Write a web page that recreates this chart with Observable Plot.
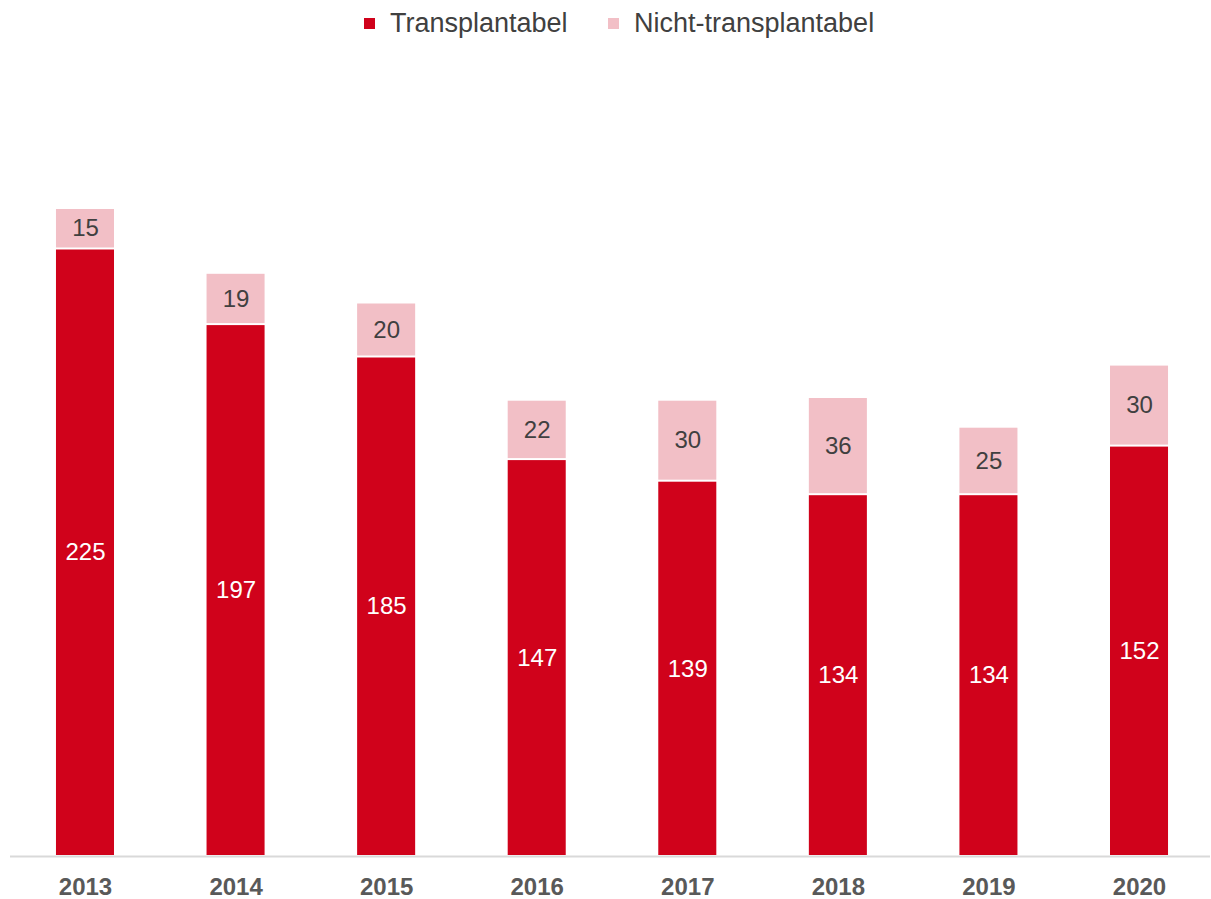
<!DOCTYPE html>
<html>
<head>
<meta charset="utf-8">
<script src="https://cdn.jsdelivr.net/npm/d3@7"></script>
<script src="https://cdn.jsdelivr.net/npm/@observablehq/plot@0.6"></script>
<style>
  html, body { margin: 0; padding: 0; background: #fff; }
  body { width: 1211px; height: 899px; overflow: hidden; font-family: "Liberation Sans", Arial, sans-serif; }
  #legend { position: relative; height: 46px; width: 1211px; }
  .item { position: absolute; top: 0; height: 46px; display: flex; align-items: center; font-size: 27px; color: #404040; }
  .sw { width: 11px; height: 11px; margin-right: 15px; margin-top: 0px; }
  svg { display: block; }
</style>
</head>
<body>
<div id="legend"></div>
<div id="chart"></div>
<script>
const years = ["2013", "2014", "2015", "2016", "2017", "2018", "2019", "2020"];
const transplantabel = [225, 197, 185, 147, 139, 134, 134, 152];
const nichtTransplantabel = [15, 19, 20, 22, 30, 36, 25, 30];
const seriesNames = ["Transplantabel", "Nicht-transplantabel"];
const seriesColors = ["#D0021B", "#F2BFC6"];
const labelColors = ["#ffffff", "#404040"];

const rows = [];
years.forEach((y, i) => rows.push({year: y, series: seriesNames[0], value: transplantabel[i]}));
years.forEach((y, i) => rows.push({year: y, series: seriesNames[1], value: nichtTransplantabel[i]}));

// Legend
const legend = document.getElementById("legend");
const legendLeft = [364, 608];
seriesNames.forEach((name, i) => {
  const it = document.createElement("div");
  it.className = "item";
  it.style.left = legendLeft[i] + "px";
  const sw = document.createElement("span");
  sw.className = "sw";
  sw.style.background = seriesColors[i];
  const t = document.createElement("span");
  t.textContent = name;
  it.appendChild(sw);
  it.appendChild(t);
  legend.appendChild(it);
});

const chart = Plot.plot({
  width: 1211,
  height: 853,
  marginLeft: 10,
  marginRight: 1,
  marginTop: 0,
  marginBottom: 43,
  style: {fontFamily: "'Liberation Sans', Arial, sans-serif", background: "white", overflow: "visible"},
  x: {domain: years, range: [9.7, 1214.3], round: false, paddingInner: 0.6146, paddingOuter: 0.3073, label: null},
  y: {domain: [0, 300], axis: null},
  color: {domain: seriesNames, range: seriesColors},
  marks: [
    Plot.barY(rows, Plot.stackY({x: "year", y: "value", z: "series", fill: "series", insetTop: 1, insetBottom: 1})),
    Plot.text(rows, Plot.stackY({x: "year", y: "value", z: "series", text: d => String(d.value),
      fill: d => labelColors[seriesNames.indexOf(d.series)], fontSize: 24})),
    Plot.ruleY([0], {stroke: "#D9D9D9", strokeWidth: 2}),
    Plot.axisX({tickSize: 0, tickPadding: 21, fontSize: 24, fontWeight: "bold", fill: "#595959", label: null})
  ]
});
document.getElementById("chart").appendChild(chart);
</script>
</body>
</html>
